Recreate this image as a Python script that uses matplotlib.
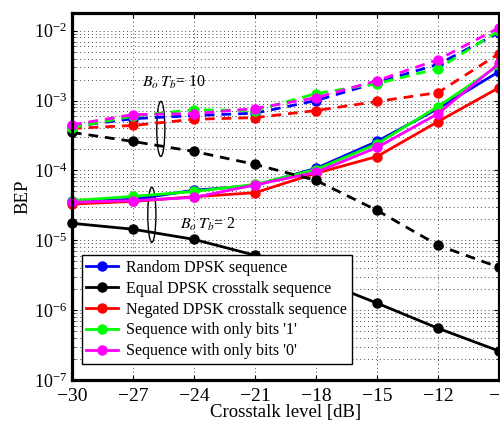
import numpy as np
import matplotlib.pyplot as plt
from matplotlib.patches import Ellipse

plt.rcParams['font.family'] = ['Liberation Serif', 'DejaVu Serif']
plt.rcParams['mathtext.fontset'] = 'stix'

xtalk = [-30, -27, -24, -21, -18, -15, -12, -9]

# BoTb = 2 (solid)
rand_2 = [3.6e-5, 3.85e-5, 5.2e-5, 6.1e-5, 1.07e-4, 2.6e-4, 7.7e-4, 2.6e-3]
equal_2 = [1.75e-5, 1.44e-5, 1.03e-5, 6.1e-6, 2.8e-6, 1.26e-6, 5.5e-7, 2.6e-7]
negated_2 = [3.3e-5, 3.6e-5, 4.2e-5, 4.8e-5, 9.1e-5, 1.58e-4, 5.0e-4, 1.53e-3]
ones_2 = [3.7e-5, 4.25e-5, 5.0e-5, 6.3e-5, 1.03e-4, 2.4e-4, 8.2e-4, 3.2e-3]
zeros_2 = [3.5e-5, 3.7e-5, 4.1e-5, 6.2e-5, 9.4e-5, 2.13e-4, 6.5e-4, 3.4e-3]

# BoTb = 10 (dashed)
rand_10 = [4.25e-4, 5.5e-4, 6.1e-4, 6.6e-4, 1.0e-3, 1.81e-3, 3.3e-3, 9.4e-3]
equal_10 = [3.5e-4, 2.6e-4, 1.87e-4, 1.22e-4, 7.2e-5, 2.68e-5, 8.5e-6, 4.1e-6]
negated_10 = [4.0e-4, 4.4e-4, 5.4e-4, 5.7e-4, 7.2e-4, 9.7e-4, 1.3e-3, 4.7e-3]
ones_10 = [4.1e-4, 6.0e-4, 7.4e-4, 7.2e-4, 1.26e-3, 1.75e-3, 2.87e-3, 1.0e-2]
zeros_10 = [4.5e-4, 6.3e-4, 6.5e-4, 7.7e-4, 1.1e-3, 1.93e-3, 3.85e-3, 1.1e-2]

labels = ['Random DPSK sequence', 'Equal DPSK crosstalk sequence',
          'Negated DPSK crosstalk sequence', "Sequence with only bits '1'",
          "Sequence with only bits '0'"]
colors = ['#0000ff', '#000000', '#ff0000', '#00ff00', '#ff00ff']

fig = plt.figure(figsize=(5.0, 4.21), dpi=100)
ax = fig.add_axes([0.144, 0.0974, 0.854, 0.872])

solid = [rand_2, equal_2, negated_2, ones_2, zeros_2]
dashed = [rand_10, equal_10, negated_10, ones_10, zeros_10]
for ys, c, lab in zip(solid, colors, labels):
    ax.plot(xtalk, ys, '-', color=c, lw=2, marker='o', ms=6.5, label=lab, clip_on=False)
for ys, c in zip(dashed, colors):
    ax.plot(xtalk, ys, '--', color=c, lw=2, marker='o', ms=6.5, dashes=(3.5, 2.5), clip_on=False)

ax.set_yscale('log')
ax.set_xlim(-30, -9)
ax.set_ylim(1e-7, 1.8e-2)
ax.set_xticks(xtalk)
grid_style = dict(linestyle=(0, (1, 3)), color='#444444', lw=0.7)
ax.grid(True, which='major', axis='x', **grid_style)
ax.grid(True, which='both', axis='y', **grid_style)
ax.tick_params(direction='in', which='both', top=True, right=True)
ax.tick_params(axis='x', labelsize=14, pad=6)
ax.tick_params(axis='y', labelsize=13)
for s in ax.spines.values():
    s.set_linewidth(2.3)

ax.set_xlabel('Crosstalk level [dB]', fontsize=13.5, labelpad=-1)
ax.set_ylabel('BEP', fontsize=13.5, labelpad=2)

ax.add_patch(Ellipse((0.208, 0.684), 0.019, 0.15, transform=ax.transAxes,
                     fill=False, lw=1, color='k'))
ax.add_patch(Ellipse((0.187, 0.45), 0.019, 0.15, transform=ax.transAxes,
                     fill=False, lw=1, color='k'))
ax.text(0.164, 0.81, r'$B_{o}\,T_{b}$= 10', transform=ax.transAxes, fontsize=11.5, va='center')
ax.text(0.253, 0.425, r'$B_{o}\,T_{b}$= 2', transform=ax.transAxes, fontsize=11.5, va='center')

leg = ax.legend(loc='lower left', bbox_to_anchor=(0.004, 0.022), fontsize=11.5,
                fancybox=False, edgecolor='k', framealpha=1, handlelength=2.0,
                borderpad=0.3, labelspacing=0.3, handletextpad=0.5)
leg.get_frame().set_linewidth(1)

fig.savefig('out.png', dpi=100)
